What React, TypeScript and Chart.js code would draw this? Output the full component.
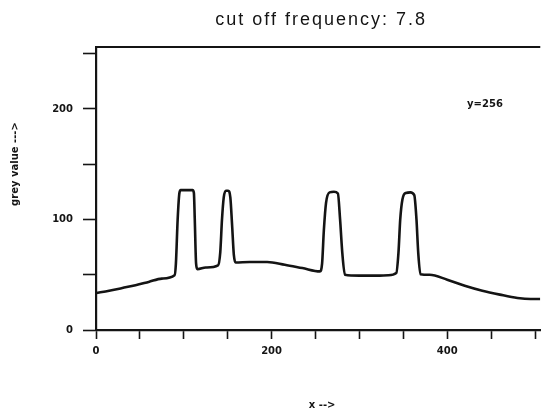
import React, { useEffect, useRef } from "react";
import { Chart, registerables } from "chart.js";

Chart.register(...registerables);

const TITLE = "cut off frequency: 7.8";
const X_TITLE = "x -->";
const Y_TITLE = "grey value --->";
const NOTE_TEXT = "y=256";
const NOTE_X = 443;
const NOTE_Y = 204;

const X_MIN = 0;
const X_MAX = 506;
const Y_MIN = 0;
const Y_MAX = 256;

const X_TICKS = [0, 50, 100, 150, 200, 250, 300, 350, 400, 450, 500];
const X_TICK_LABELS = [0, 200, 400];
const Y_TICKS = [0, 50, 100, 150, 200, 250];
const Y_TICK_LABELS = [0, 100, 200];

const PROFILE_X = [
  0, 15, 30, 45, 60, 75, 89.5, 91, 93, 95, 96.5, 110, 111.5, 112.5, 114, 115.5,
  125, 139, 141.5, 143.5, 145.5, 148, 150.5, 153, 155, 157, 159, 175, 195, 215,
  235, 255, 257.5, 259.5, 262, 266, 271, 275.5, 278, 280.5, 283.5, 300, 320,
  333, 342, 344.5, 346.5, 349, 353, 358, 362.5, 365, 367, 369.5, 380, 400, 420,
  440, 460, 480, 495, 506,
];
const PROFILE_Y = [
  33.5, 35.5, 38, 40.5, 43.5, 46.5, 49.5, 60, 100, 124, 126.5, 126.5, 124, 100,
  60, 55, 56.5, 58.5, 70, 100, 120, 126, 126, 120, 95, 68, 61, 61.5, 61.5, 59,
  56, 53, 60, 90, 115, 124.5, 125, 123.5, 100, 70, 50, 49.2, 49.2, 49.5, 51.5,
  70, 100, 118, 124, 124.5, 122, 100, 70, 50.5, 50, 45.5, 40, 35.5, 32, 29, 28,
  28,
];

const INK = "#141414";

export default function App() {
  const ref = useRef<HTMLCanvasElement | null>(null);

  useEffect(() => {
    document.body.style.margin = "0";
    const canvas = ref.current;
    if (!canvas) return;

    const points = PROFILE_X.map((x, i) => ({ x, y: PROFILE_Y[i] }));

    const textPlugin = {
      id: "texts",
      afterDraw(chart: any) {
        const { ctx, chartArea, scales } = chart;
        ctx.save();
        ctx.strokeStyle = INK;
        ctx.lineWidth = 2;
        ctx.beginPath();
        ctx.moveTo(chartArea.left - 1, chartArea.top);
        ctx.lineTo(chartArea.right, chartArea.top);
        ctx.stroke();

        ctx.fillStyle = INK;
        ctx.textAlign = "center";
        ctx.textBaseline = "middle";

        ctx.font = '18px "Liberation Sans"';
        (ctx as any).letterSpacing = "2px";
        const cx = (chartArea.left + chartArea.right) / 2 + 3;
        ctx.fillText(TITLE, cx, chartArea.top - 27);
        (ctx as any).letterSpacing = "0px";

        ctx.font = 'bold 10px "DejaVu Sans"';
        ctx.fillText(X_TITLE, cx + 1, chartArea.bottom + 75);

        ctx.save();
        ctx.translate(chartArea.left - 81, chartArea.top + 117);
        ctx.rotate(-Math.PI / 2);
        ctx.font = 'bold 10px "DejaVu Sans"';
        ctx.fillText(Y_TITLE, 0, 0);
        ctx.restore();

        ctx.font = 'bold 10px "DejaVu Sans"';
        ctx.fillText(
          NOTE_TEXT,
          scales.x.getPixelForValue(NOTE_X),
          scales.y.getPixelForValue(NOTE_Y)
        );
        ctx.restore();
      },
    };

    const tickFont = { family: "DejaVu Sans", weight: "bold" as const, size: 10 };

    const chart = new Chart(canvas, {
      type: "scatter",
      data: {
        datasets: [
          {
            data: points,
            showLine: true,
            borderColor: INK,
            borderWidth: 2.6,
            pointRadius: 0,
            cubicInterpolationMode: "monotone",
            fill: false,
          } as any,
        ],
      },
      options: {
        responsive: false,
        animation: false,
        devicePixelRatio: 1,
        layout: { padding: { top: 47, right: 0, bottom: 0, left: 0 } },
        plugins: {
          legend: { display: false },
          tooltip: { enabled: false },
          title: { display: false },
        },
        scales: {
          x: {
            type: "linear",
            min: X_MIN,
            max: X_MAX,
            afterBuildTicks: (scale: any) => {
              scale.ticks = X_TICKS.map((v) => ({ value: v }));
            },
            afterFit: (scale: any) => {
              scale.height = 80;
            },
            ticks: {
              autoSkip: false,
              maxRotation: 0,
              padding: 6,
              color: INK,
              font: tickFont,
              callback: (v: any) =>
                X_TICK_LABELS.includes(Number(v)) ? String(v) : "",
            },
            grid: {
              drawOnChartArea: false,
              drawTicks: true,
              tickLength: 9,
              tickWidth: 1.6,
              tickColor: INK,
            },
            border: { display: true, color: INK, width: 2.2 },
          },
          y: {
            type: "linear",
            min: Y_MIN,
            max: Y_MAX,
            afterBuildTicks: (scale: any) => {
              scale.ticks = Y_TICKS.map((v) => ({ value: v }));
            },
            afterFit: (scale: any) => {
              scale.width = 96;
            },
            ticks: {
              autoSkip: false,
              padding: 10,
              color: INK,
              font: tickFont,
              callback: (v: any) =>
                Y_TICK_LABELS.includes(Number(v)) ? String(v) : "",
            },
            grid: {
              drawOnChartArea: false,
              drawTicks: true,
              tickLength: 13,
              tickWidth: 1.6,
              tickColor: INK,
            },
            border: { display: true, color: INK, width: 2.2 },
          },
        },
      },
      plugins: [textPlugin],
    });

    return () => chart.destroy();
  }, []);

  return (
    <div style={{ width: 541, height: 410, background: "#fff" }}>
      <canvas ref={ref} width={541} height={410} style={{ display: "block" }} />
    </div>
  );
}
